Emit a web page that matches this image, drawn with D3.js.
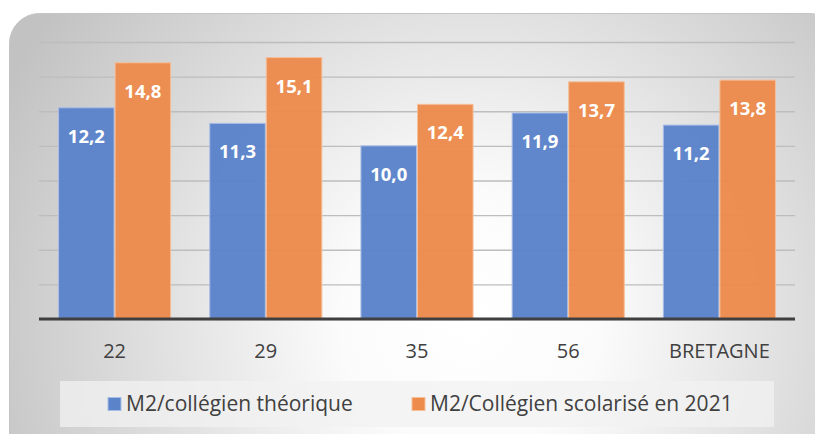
<!DOCTYPE html>
<html><head><meta charset="utf-8">
<script src="https://cdn.jsdelivr.net/npm/d3@7"></script>
<style>html,body{margin:0;padding:0;background:#fff;}svg{display:block;}</style>
</head><body>
<svg id="chart" width="815" height="434"></svg>
<script>
const categories = ["22", "29", "35", "56", "BRETAGNE"];
const seriesNames = ["M2/collégien théorique", "M2/Collégien scolarisé en 2021"];
const theorique = [12.2, 11.3, 10.0, 11.9, 11.2];
const scolarise = [14.8, 15.1, 12.4, 13.7, 13.8];
const yTicks = [0, 2, 4, 6, 8, 10, 12, 14, 16];
const colors = ["#5b83c9", "#ec8b4c"];

const svg = d3.select("#chart");
const defs = svg.append("defs");
const rg = defs.append("radialGradient").attr("id", "bg")
  .attr("gradientUnits", "userSpaceOnUse")
  .attr("cx", 470).attr("cy", 320).attr("r", 520);
rg.append("stop").attr("offset", "0%").attr("stop-color", "#ffffff");
rg.append("stop").attr("offset", "25%").attr("stop-color", "#fbfbfb");
rg.append("stop").attr("offset", "100%").attr("stop-color", "#c2c2c2");

svg.append("rect").attr("x", 9.5).attr("y", 13.5).attr("width", 830).attr("height", 450)
  .attr("rx", 30).attr("fill", "url(#bg)").attr("stroke", "#c4c4c4").attr("stroke-width", 1);

const x0 = d3.scaleBand().domain(categories).range([39, 795]).paddingInner(0.252).paddingOuter(0.126);
const x1 = d3.scaleBand().domain([0, 1]).range([0, x0.bandwidth()]).padding(0);
const y = d3.scaleLinear().domain([0, 16]).range([319, 42]);

// gridlines
const yAxis = d3.axisLeft(y).tickValues(yTicks).tickSize(-(795 - 39)).tickFormat("");
const gy = svg.append("g").attr("transform", "translate(39,0)").call(yAxis);
gy.select(".domain").remove();
gy.selectAll(".tick line").attr("stroke", "#bdbdbd").attr("stroke-width", 1.3);

// bars
const data = categories.map((c, i) => ({cat: c, vals: [theorique[i], scolarise[i]]}));
const groups = svg.append("g").selectAll("g").data(data).join("g")
  .attr("transform", d => `translate(${x0(d.cat)},0)`);
groups.selectAll("rect").data(d => d.vals.map((v, k) => ({v, k}))).join("rect")
  .attr("x", d => x1(d.k) + 0.5).attr("width", x1.bandwidth() - 1)
  .attr("y", d => y(d.v)).attr("height", d => y(0) - y(d.v))
  .attr("fill", d => colors[d.k]).attr("fill-opacity", 0.97)
  .attr("stroke", d => d.k === 0 ? "#a9bde6" : "#f5bf9a").attr("stroke-width", 1);
groups.selectAll("text").data(d => d.vals.map((v, k) => ({v, k}))).join("text")
  .attr("x", d => x1(d.k) + x1.bandwidth() / 2)
  .attr("y", d => y(d.v) + 35)
  .attr("text-anchor", "middle")
  .attr("fill", "#ffffff").attr("font-family", "'Open Sans', sans-serif")
  .attr("font-weight", "bold").attr("font-size", 18.5)
  .text(d => d.v.toFixed(1).replace(".", ","));

// baseline
svg.append("line").attr("x1", 39).attr("x2", 795).attr("y1", y(0)).attr("y2", y(0))
  .attr("stroke", "#3f3f3f").attr("stroke-width", 3);

// x axis labels
const xAxis = d3.axisBottom(x0).tickSize(0).tickPadding(0);
const gx = svg.append("g").attr("transform", `translate(0,${y(0)})`).call(xAxis);
gx.select(".domain").remove();
gx.selectAll(".tick text").attr("y", 39).attr("dy", 0)
  .attr("fill", "#404040").attr("font-family", "'Open Sans', sans-serif").attr("font-size", 20);

// legend
svg.append("rect").attr("x", 60).attr("y", 381).attr("width", 714).attr("height", 46)
  .attr("fill", "#f2f2f2").attr("fill-opacity", 0.75);
const legX = [108, 412];
seriesNames.forEach((n, i) => {
  svg.append("rect").attr("x", legX[i]).attr("y", 397.5).attr("width", 13).attr("height", 13)
    .attr("fill", colors[i]).attr("stroke", i === 0 ? "#a9bde6" : "#f5bf9a");
  svg.append("text").attr("x", legX[i] + 18).attr("y", 411)
    .attr("fill", "#404040").attr("font-family", "'Open Sans', sans-serif").attr("font-size", 21)
    .text(n);
});
</script>
</body></html>
